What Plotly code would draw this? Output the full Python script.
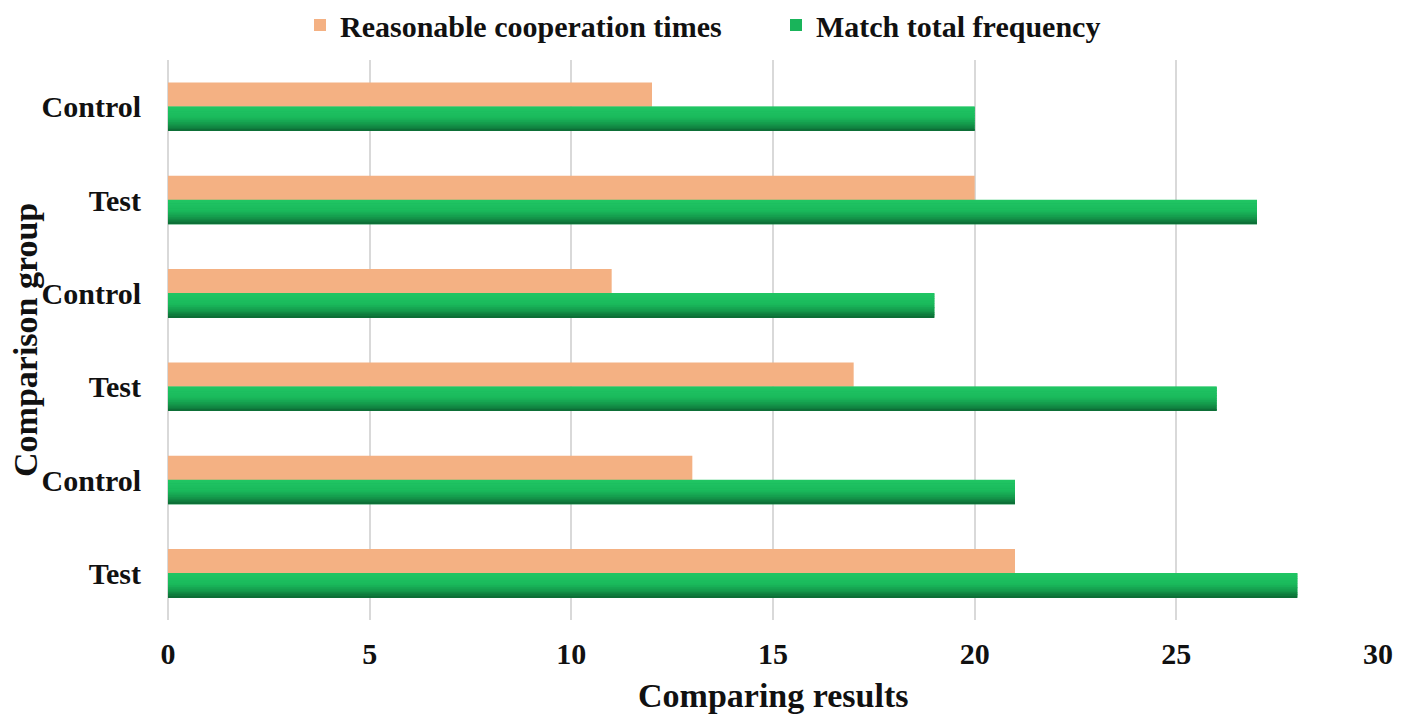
import plotly.graph_objects as go

# Groups listed bottom-to-top along the y axis
group_labels = ["Test", "Control", "Test", "Control", "Test", "Control"]
reasonable_coop = [21, 13, 17, 11, 20, 12]
match_total = [28, 21, 26, 19, 27, 20]

positions = list(range(len(group_labels)))
BAR_W = 0.26
FONT = "Liberation Serif"
INK = "#111111"

fig = go.Figure()

# Orange bar sits just above each group's centre line
fig.add_trace(go.Bar(
    y=positions, x=reasonable_coop, orientation="h",
    width=BAR_W, offset=0,
    marker=dict(color="#F4B183", line=dict(width=0)),
    name="Reasonable cooperation times",
    hoverinfo="x",
))

# Green bar below the centre line, base colour for the legend
fig.add_trace(go.Bar(
    y=positions, x=match_total, orientation="h",
    width=BAR_W, offset=-BAR_W,
    marker=dict(color="#19B45A", line=dict(width=0)),
    name="Match total frequency",
    hoverinfo="x",
))

# Vertical shading of the green bars: bright on top, dark at the bottom
stops = [(0.0, (32, 198, 100)), (0.45, (26, 186, 92)), (0.75, (20, 150, 74)), (1.0, (12, 104, 52))]

def shade(t):
    for (t0, c0), (t1, c1) in zip(stops[:-1], stops[1:]):
        if t0 <= t <= t1:
            f = (t - t0) / (t1 - t0) if t1 > t0 else 0
            return "rgb(%d,%d,%d)" % tuple(round(a + (b - a) * f) for a, b in zip(c0, c1))
    return "rgb(%d,%d,%d)" % stops[-1][1]

N = 14
sw = BAR_W / N
for i in range(N):
    t = (i + 0.5) / N  # 0 = top edge, 1 = bottom edge
    fig.add_trace(go.Bar(
        y=positions, x=match_total, orientation="h",
        width=sw * 1.15, offset=-(i + 1) * sw,
        marker=dict(color=shade(t), line=dict(width=0)),
        showlegend=False, hoverinfo="skip",
    ))

fig.update_layout(
    width=1410, height=714,
    barmode="overlay",
    paper_bgcolor="white", plot_bgcolor="white",
    margin=dict(l=168, r=32, t=60, b=94, autoexpand=False),
    font=dict(family=FONT, color=INK),
    legend=dict(
        orientation="h",
        xref="container", x=300 / 1410, xanchor="left",
        yref="container", y=1 - 25 / 714, yanchor="middle",
        font=dict(family=FONT, size=30, color=INK, weight="bold"),
        itemwidth=30, entrywidth=431, tracegroupgap=0,
    ),
    xaxis=dict(
        range=[0, 30], tick0=0, dtick=5,
        showgrid=True, gridcolor="#D9D9D9", gridwidth=2,
        zeroline=True, zerolinecolor="#D9D9D9", zerolinewidth=2,
        showline=False, ticks="",
        ticklabelstandoff=13,
        tickfont=dict(family=FONT, size=30, color=INK, weight="bold"),
    ),
    yaxis=dict(
        range=[-0.5, 5.5],
        tickmode="array", tickvals=positions, ticktext=group_labels,
        showgrid=False, zeroline=False, showline=False, ticks="",
        ticklabelstandoff=26,
        tickfont=dict(family=FONT, size=30, color=INK, weight="bold"),
    ),
    annotations=[
        dict(text="Comparing results", xref="paper", yref="paper",
             x=0.5, y=(620 - 695) / 560, xanchor="center", yanchor="middle", showarrow=False,
             font=dict(family=FONT, size=34, color=INK, weight="bold")),
        dict(text="Comparison group", xref="paper", yref="paper",
             x=(25 - 168) / 1210, y=0.5, xanchor="center", yanchor="middle", showarrow=False,
             textangle=-90,
             font=dict(family=FONT, size=34, color=INK, weight="bold")),
    ],
)

fig.write_html("out.html")
